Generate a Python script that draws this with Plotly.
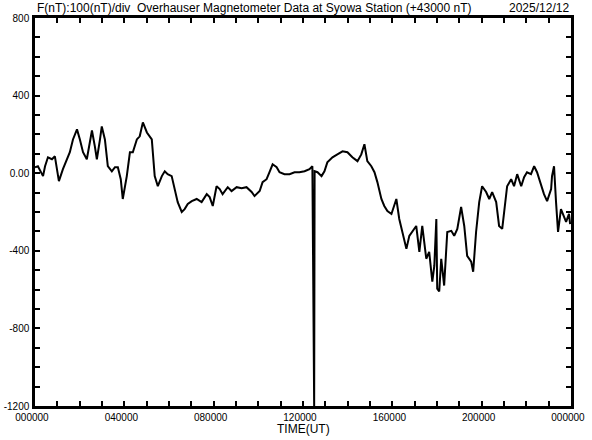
import plotly.graph_objects as go

# Time (hours UT) and F deviation (nT, relative to 43000 nT)
time_h = [0.00, 0.13, 0.36, 0.45, 0.58, 0.76, 0.89, 1.07, 1.25, 1.43, 1.56, 1.70, 1.88, 2.01, 2.15,
          2.32, 2.46, 2.55, 2.68, 2.77, 2.91, 2.99, 3.13, 3.26, 3.44, 3.58, 3.71, 3.84, 3.93, 4.11,
          4.25, 4.38, 4.56, 4.69, 4.83, 5.01, 5.23, 5.27, 5.36, 5.50, 5.68, 5.81, 5.94, 6.12, 6.26,
          6.39, 6.57, 6.70, 6.84, 7.02, 7.24, 7.46, 7.69, 7.82, 7.96, 8.13, 8.27, 8.40, 8.63, 8.80,
          9.03, 9.25, 9.47, 9.70, 9.83, 10.06, 10.19, 10.37, 10.50, 10.64, 10.82, 10.95, 11.17, 11.40,
          11.62, 11.84, 12.07, 12.29, 12.42, 12.50, 12.52, 12.65, 12.83, 12.96, 13.09, 13.32, 13.54,
          13.77, 13.99, 14.21, 14.44, 14.61, 14.75, 14.88, 15.06, 15.20, 15.33, 15.51, 15.64, 15.78,
          15.96, 16.09, 16.18, 16.31, 16.45, 16.63, 16.76, 16.89, 17.07, 17.21, 17.34, 17.52, 17.65,
          17.79, 17.88, 17.97, 18.01, 18.10, 18.19, 18.32, 18.46, 18.64, 18.77, 18.91, 19.08, 19.22,
          19.35, 19.53, 19.62, 19.75, 19.89, 20.02, 20.20, 20.34, 20.47, 20.65, 20.78, 20.92, 21.01,
          21.14, 21.32, 21.45, 21.59, 21.77, 21.90, 22.03, 22.21, 22.35, 22.48, 22.66, 22.79, 22.93,
          23.11, 23.15, 23.24, 23.33, 23.42, 23.55, 23.69, 23.78, 23.91, 23.96]
f_nT = [31, 36, -15, 36, 82, 72, 87, -41, 21, 72, 108, 174, 226, 174, 108,
        72, 174, 220, 138, 72, 174, 241, 174, 36, 10, 31, 31, -31, -133, -15,
        108, 108, 174, 190, 262, 210, 174, 108, -15, -67, -15, 10, -5, -15, -82,
        -149, -200, -185, -159, -144, -133, -149, -108, -123, -169, -67, -82, -108, -72, -92,
        -72, -77, -72, -97, -118, -92, -46, -31, 5, 46, 31, 5, -5, -5,
        5, 5, 10, 21, 36, -1200, 10, 5, -15, 10, 56, 82, 97,
        113, 108, 82, 62, 97, 149, 62, 36, 5, -46, -133, -169, -195,
        -210, -159, -133, -236, -303, -390, -323, -303, -272, -405, -272, -441, -405,
        -559, -477, -236, -595, -610, -441, -579, -303, -297, -323, -287, -174, -272,
        -426, -456, -508, -303, -149, -67, -97, -133, -97, -149, -272, -287, -185,
        -67, -31, -67, -5, -67, -21, 5, -5, 36, 5, -67, -108, -144,
        -82, -15, 36, -149, -303, -185, -221, -251, -210, -262]

x_tickvals = [0, 4, 8, 12, 16, 20, 24]
x_ticktext = ["000000", "040000", "080000", "120000", "160000", "200000", "000000"]
y_tickvals = [800, 400, 0, -400, -800, -1200]
y_ticktext = ["800", "400", "0.00", "-400", "-800", "-1200"]

title_text = "F(nT):100(nT)/div  Overhauser Magnetometer Data at Syowa Station (+43000 nT)"
date_text = "2025/12/12"
xlabel = "TIME(UT)"

FONT = "Liberation Sans"

fig = go.Figure()
fig.add_trace(go.Scatter(x=time_h, y=f_nT, mode="lines",
                         line=dict(color="black", width=2), hoverinfo="skip"))

fig.update_layout(
    width=592, height=440,
    margin=dict(l=35, r=21, t=18, b=34, autoexpand=False),
    paper_bgcolor="white", plot_bgcolor="white",
    showlegend=False,
    font=dict(family=FONT, size=11, color="black"),
)
fig.update_xaxes(
    range=[0, 24], tickvals=x_tickvals, ticktext=x_ticktext,
    showgrid=False, zeroline=False, automargin=False,
    showline=True, linecolor="black", linewidth=2.5, mirror="allticks",
    ticks="inside", ticklen=5, tickwidth=2, tickcolor="black",
    minor=dict(dtick=1, ticks="inside", ticklen=5, tickwidth=2, tickcolor="black", showgrid=False),
    tickfont=dict(size=10, family=FONT), ticklabelshift=-3,
)
fig.update_yaxes(
    range=[-1200, 800], tickvals=y_tickvals, ticktext=y_ticktext,
    showgrid=False, zeroline=False, automargin=False,
    showline=True, linecolor="black", linewidth=2.5, mirror="allticks",
    ticks="inside", ticklen=5, tickwidth=2, tickcolor="black",
    minor=dict(dtick=100, tick0=0, ticks="inside", ticklen=5, tickwidth=2, tickcolor="black", showgrid=False),
    tickfont=dict(size=10, family=FONT), ticklabelstandoff=1,
)

fig.add_annotation(text=title_text, xref="paper", yref="paper", x=0, y=1,
                   xanchor="left", yanchor="bottom", yshift=1, showarrow=False,
                   font=dict(size=12, family=FONT, color="black"))
fig.add_annotation(text=date_text, xref="paper", yref="paper", x=1, y=1,
                   xanchor="right", yanchor="bottom", yshift=1, showarrow=False,
                   font=dict(size=12, family=FONT, color="black"))
fig.add_annotation(text=xlabel, xref="paper", yref="paper", x=0.5, y=0,
                   xanchor="center", yanchor="top", yshift=-14, showarrow=False,
                   font=dict(size=12, family=FONT, color="black"))

fig.write_html("out.html", config={"displayModeBar": False},
               post_script="document.body.style.margin='0';")
